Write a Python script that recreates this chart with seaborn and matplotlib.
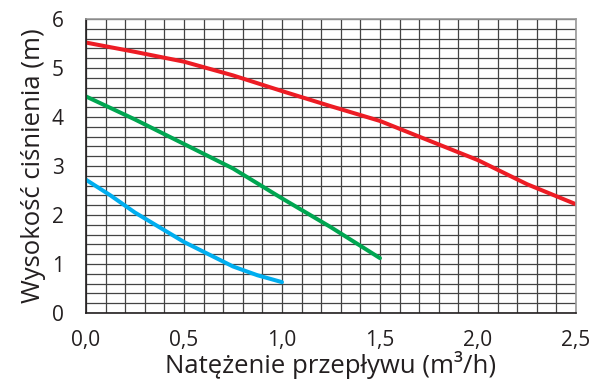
import numpy as np
import pandas as pd
import matplotlib
matplotlib.use("Agg")
import matplotlib.pyplot as plt
import seaborn as sns

# Pump curves: flow (m3/h) vs head (m)
red_x = [0.0, 0.25, 0.5, 0.75, 1.0, 1.25, 1.5, 1.75, 2.0, 2.25, 2.5]
red_y = [5.52, 5.33, 5.13, 4.85, 4.53, 4.22, 3.92, 3.52, 3.12, 2.63, 2.22]
green_x = [0.0, 0.25, 0.5, 0.75, 1.0, 1.25, 1.5]
green_y = [4.42, 3.95, 3.45, 2.95, 2.34, 1.75, 1.12]
blue_x = [0.0, 0.125, 0.25, 0.5, 0.75, 0.875, 1.0]
blue_y = [2.72, 2.40, 2.05, 1.45, 0.95, 0.77, 0.63]

x_ticks = [0.0, 0.5, 1.0, 1.5, 2.0, 2.5]
x_tick_labels = ["0,0", "0,5", "1,0", "1,5", "2,0", "2,5"]
y_ticks = [0, 1, 2, 3, 4, 5, 6]

sns.set_style("white")
plt.rcParams["font.family"] = ["Open Sans", "DejaVu Sans"]

df = pd.concat([
    pd.DataFrame({"q": red_x, "h": red_y, "curve": "red"}),
    pd.DataFrame({"q": green_x, "h": green_y, "curve": "green"}),
    pd.DataFrame({"q": blue_x, "h": blue_y, "curve": "blue"}),
])
palette = {"red": "#ed1c24", "green": "#00a651", "blue": "#00aeef"}

fig = plt.figure(figsize=(5.91, 3.81), dpi=100)
ax = fig.add_axes([0.1455, 0.1785, 0.829, 0.7715])

# fine grid: 0.1 on x, 0.2 on y
ax.set_xticks(np.arange(0, 2.51, 0.1), minor=True)
ax.set_yticks(np.arange(0, 6.01, 0.2), minor=True)
ax.grid(which="minor", color="#444444", linewidth=0.9)
ax.grid(which="major", color="#444444", linewidth=0.9)
ax.set_axisbelow(True)

sns.lineplot(data=df, x="q", y="h", hue="curve", palette=palette,
             linewidth=2.9, legend=False, ax=ax, sort=False,
             estimator=None)

ax.set_xlim(0, 2.5)
ax.set_ylim(0, 6)
ax.set_xticks(x_ticks)
ax.set_xticklabels(x_tick_labels)
ax.set_yticks(y_ticks)
ax.tick_params(which="both", length=0, labelsize=15, colors="#231f20")
ax.tick_params(axis="y", pad=16)
ax.tick_params(axis="x", pad=12)

for side in ["left", "bottom"]:
    ax.spines[side].set_color("#231f20")
    ax.spines[side].set_linewidth(1.2)
for side in ["top", "right"]:
    ax.spines[side].set_color("#9a9a9a")
    ax.spines[side].set_linewidth(1.2)

ax.set_xlabel("Natężenie przepływu (m³/h)", fontsize=18.5, color="#231f20", labelpad=0)
ax.set_ylabel("Wysokość ciśnienia (m)", fontsize=18.5, color="#231f20", labelpad=4)

fig.savefig("out.png", dpi=100)
